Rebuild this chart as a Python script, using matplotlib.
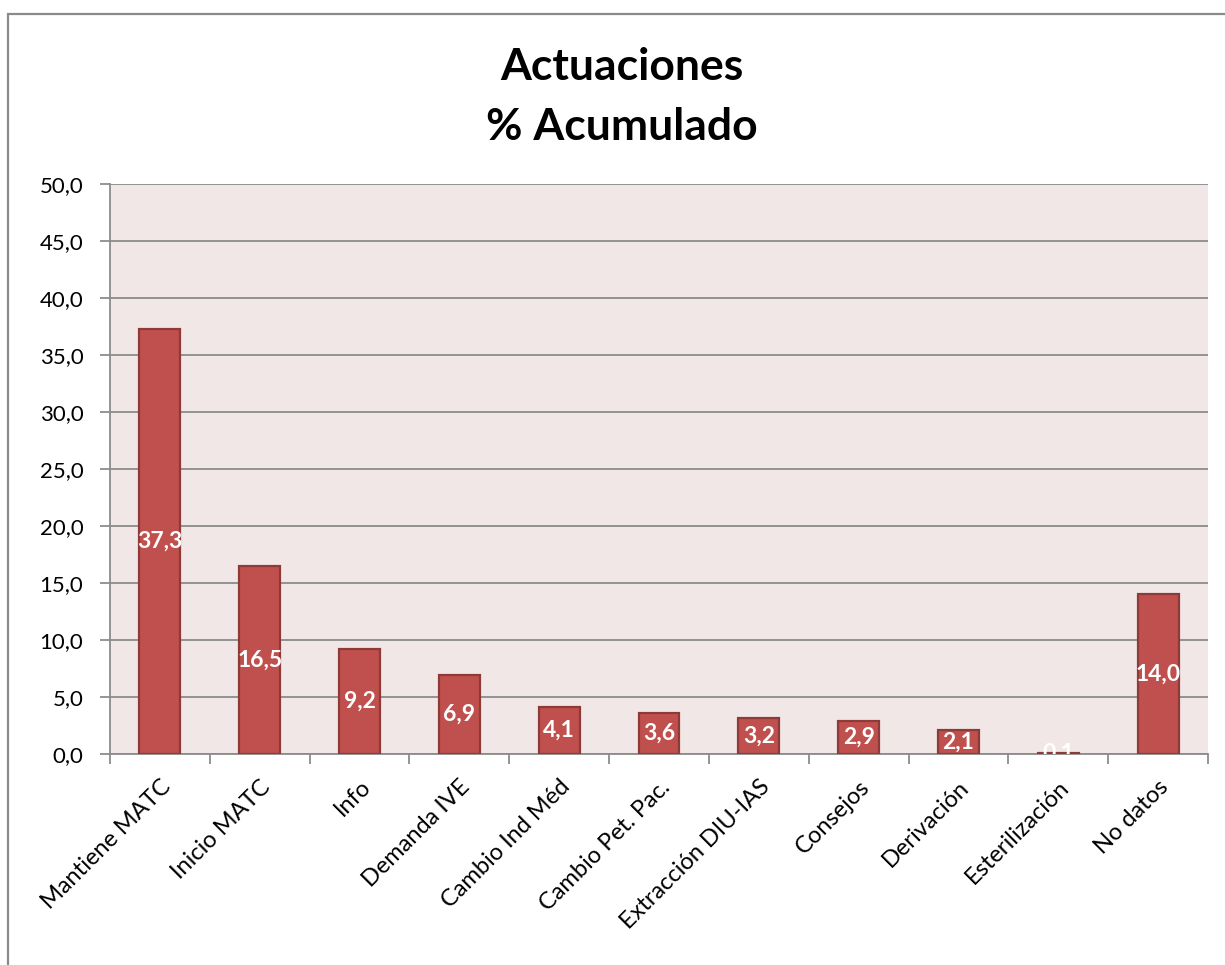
import matplotlib
matplotlib.use("Agg")
import matplotlib.pyplot as plt
from matplotlib.patches import Rectangle
from matplotlib.ticker import MultipleLocator, FuncFormatter

categories = ["Mantiene MATC", "Inicio MATC", "Info", "Demanda IVE", "Cambio Ind Méd",
              "Cambio Pet. Pac.", "Extracción DIU-IAS", "Consejos", "Derivación",
              "Esterilización", "No datos"]
values = [37.3, 16.5, 9.2, 6.9, 4.1, 3.6, 3.2, 2.9, 2.1, 0.1, 14.0]

plt.rcParams["font.family"] = ["Lato", "DejaVu Sans"]

W, H = 1225, 965
fig = plt.figure(figsize=(W / 100, H / 100), dpi=100)
fig.patch.set_facecolor("white")

# outer chart frame
fig.add_artist(Rectangle((8 / W, -0.1), 1.2, 1 - 14 / H + 0.1, transform=fig.transFigure,
                         fill=False, edgecolor="#8a8a8a", linewidth=1.6))

ax = fig.add_axes([110 / W, 1 - 754 / H, (1208 - 110) / W, (754 - 184) / H])
ax.set_facecolor("#f2e7e7")

x = range(len(categories))
ax.bar(x, values, width=0.41, color="#c0504d", edgecolor="#8e3a38", linewidth=1.6, zorder=3)

for xi, v in zip(x, values):
    t = ax.text(xi, v / 2, f"{v:.1f}".replace(".", ","), ha="center", va="center",
                color="white", fontsize=16.5, fontweight="bold", zorder=4)
    t.set_clip_on(True)

ax.set_xlim(-0.5, len(categories) - 0.5)
ax.set_ylim(0, 50)
ax.yaxis.set_major_locator(MultipleLocator(5))
ax.yaxis.set_major_formatter(FuncFormatter(lambda v, p: f"{v:.1f}".replace(".", ",")))
ax.grid(axis="y", color="#8c8c8c", linewidth=1.3, zorder=0)
ax.set_axisbelow(True)

for s in ("top", "right"):
    ax.spines[s].set_visible(False)
for s in ("left", "bottom"):
    ax.spines[s].set_color("#8c8c8c")
    ax.spines[s].set_linewidth(1.3)

ax.tick_params(axis="y", length=7.2, width=1.3, color="#8c8c8c", labelsize=16, pad=12)
ax.set_xticks([i - 0.5 for i in range(len(categories) + 1)], minor=False)
ax.set_xticklabels([])
ax.tick_params(axis="x", which="major", length=7.2, width=1.3, color="#8c8c8c")
ax.set_xticks(list(x), minor=True)
ax.set_xticklabels(categories, minor=True, rotation=45, ha="right", rotation_mode="anchor",
                   fontsize=17)
ax.tick_params(axis="x", which="minor", length=0, pad=16)

fig.text(622 / W, 1 - 67 / H, "Actuaciones", ha="center", va="center",
         fontsize=32, fontweight="bold")
fig.text(622 / W, 1 - 127 / H, "% Acumulado", ha="center", va="center",
         fontsize=32, fontweight="bold")

fig.savefig("out.png", dpi=100)
